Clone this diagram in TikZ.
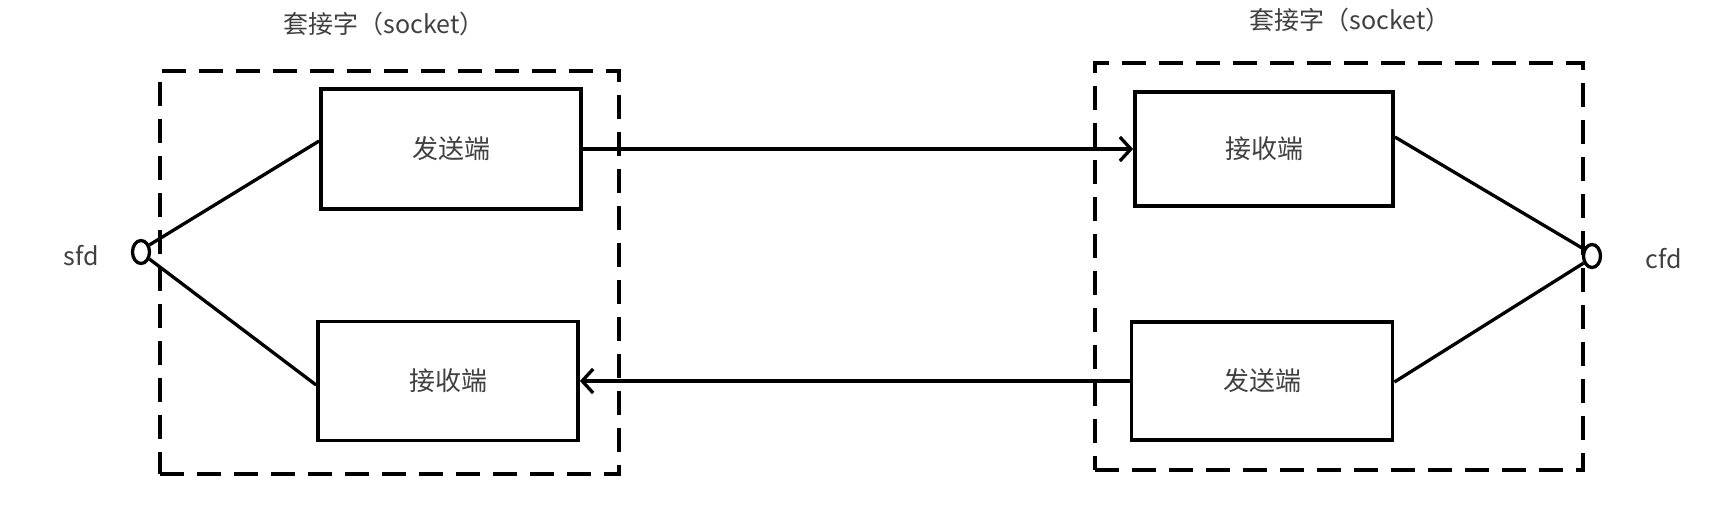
\documentclass[tikz,border=0pt]{standalone}
\usepackage{fontspec}
\setmainfont{Noto Sans CJK SC}
\usetikzlibrary{arrows.meta,shapes.geometric}
\begin{document}
\begin{tikzpicture}[x=1pt,y=-1pt,
 box/.style={draw, line width=3.8pt, inner sep=0pt, font=\fontsize{26}{30}\selectfont, text=black!75},
 dbox/.style={draw, line width=3.8pt, dash pattern=on 24pt off 13pt, inner sep=0pt, anchor=north west},
 lbl/.style={font=\fontsize{25}{29}\selectfont, text=black!75},
 link/.style={line width=3.3pt},
 arr/.style={line width=3.3pt, -{Straight Barb[length=11pt,width=24pt,line width=3.3pt]}},
 port/.style={draw, line width=3.3pt, ellipse, minimum width=17pt, minimum height=23pt, inner sep=0pt, fill=white}]
\useasboundingbox (0,0) rectangle (1734,507);
\fill[white] (0,0) rectangle (1734,507);
% socket frames
\node[dbox, minimum width=459pt, minimum height=403pt] (LF) at (158,69) {};
\node[dbox, minimum width=488pt, minimum height=407pt] (RF) at (1093,61) {};
% titles
\node[lbl] (LT) at (384,24) {套接字（socket）};
\node[lbl] (RT) at (1350,20) {套接字（socket）};
% boxes
\node[box, minimum width=260pt, minimum height=120pt] (LS) at (451,149) {发送端};
\node[box, minimum width=260pt, minimum height=119pt] (LR) at (448,381) {接收端};
\node[box, minimum width=258pt, minimum height=114pt] (RR) at (1264,149) {接收端};
\node[box, minimum width=261pt, minimum height=118pt] (RS) at (1262,381) {发送端};
% ports
\node[port] (sfd) at (141,252) {};
\node[port] (cfd) at (1592,256) {};
\node[lbl] (sfdl) at (81,256) {sfd};
\node[lbl] (cfdl) at (1664,259) {cfd};
% links
\draw[link] (sfd.40) -- ([yshift=8pt]LS.west);
\draw[link] (sfd.-40) -- ([yshift=-4pt]LR.west);
\draw[link] (cfd.140) -- ([yshift=12pt]RR.east);
\draw[link] (cfd.-140) -- ([yshift=-1pt]RS.east);
% data arrows
\draw[arr] (LS.east) -- (RR.west);
\draw[arr] (RS.west) -- (LR.east);
\end{tikzpicture}
\end{document}
